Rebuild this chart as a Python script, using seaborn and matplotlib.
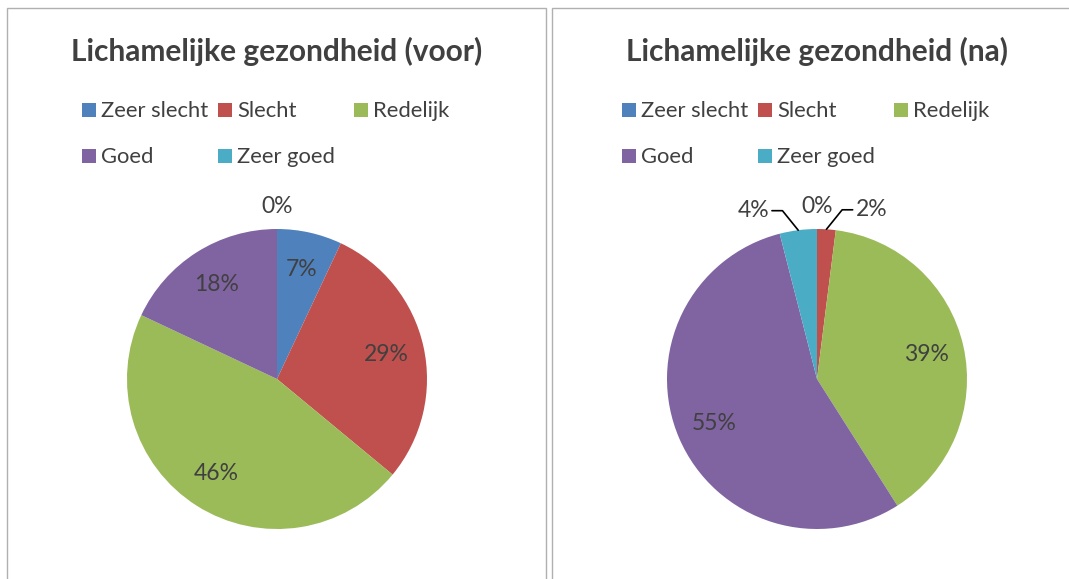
import numpy as np
import matplotlib
matplotlib.use("Agg")
import matplotlib.pyplot as plt
from matplotlib.patches import Rectangle
import seaborn as sns

categories = ["Zeer slecht", "Slecht", "Redelijk", "Goed", "Zeer goed"]
voor = [7, 29, 46, 18, 0]
na = [0, 2, 39, 55, 4]
titles = ["Lichamelijke gezondheid (voor)", "Lichamelijke gezondheid (na)"]
colors = ["#4F81BD", "#C0504D", "#9BBB59", "#8064A2", "#4BACC6"]

sns.set_theme(style="white")
plt.rcParams["font.family"] = ["Lato", "DejaVu Sans"]
palette = sns.color_palette(colors)
TXT = "#404040"

W, H = 1069, 579
fig = plt.figure(figsize=(W / 100, H / 100), dpi=100)

# panel borders (pixels from top-left)
for x0, x1 in [(7, 546), (552, 1080)]:
    fig.add_artist(Rectangle((x0 / W, -0.05), (x1 - x0) / W, 1 - 8 / H + 0.05,
                             transform=fig.transFigure, fill=False,
                             edgecolor="#b0b0b0", lw=1))

R = 150


def draw_panel(cx, cy, title, values):
    ax = fig.add_axes([(cx - R) / W, (H - cy - R) / H, 2 * R / W, 2 * R / H])
    wedges, _ = ax.pie(values, colors=palette, startangle=90, counterclock=False,
                       wedgeprops=dict(linewidth=0))
    ax.set_xlim(-1, 1)
    ax.set_ylim(-1, 1)
    ax.set_aspect("equal")
    ax.set_axis_off()

    for w, v in zip(wedges, values):
        mid = np.deg2rad((w.theta1 + w.theta2) / 2)
        c, s = np.cos(mid), np.sin(mid)
        lab = f"{v}%"
        if v == 0:
            ax.text(1.15 * c, 1.15 * s, lab, ha="center", va="center",
                    fontsize=16.5, color=TXT)
        elif v < 5:
            sign = 1 if c > 0 else -1
            ex, ey = c + sign * 0.105, s + 0.13
            hx = ex + sign * 0.07
            ax.plot([c, ex, hx], [s, ey, ey], color="black", lw=1.2, clip_on=False)
            ax.text(hx + sign * 0.02, ey, lab, ha="left" if sign > 0 else "right",
                    va="center", fontsize=16.5, color=TXT)
        else:
            ax.text(0.75 * c, 0.75 * s, lab, ha="center", va="center",
                    fontsize=16.5, color=TXT)

    fig.text(cx / W, 1 - 51 / H, title, ha="center", va="center",
             fontsize=21.5, fontweight="bold", color=TXT)

    # legend, three per row
    for i, (cat, col) in enumerate(zip(categories, palette)):
        row, k = divmod(i, 3)
        mx = cx - 195 + k * 136
        my = 103 + row * 46
        fig.add_artist(Rectangle((mx / W, 1 - (my + 14) / H), 14 / W, 14 / H,
                                 transform=fig.transFigure, color=col, lw=0))
        fig.text((mx + 19) / W, 1 - (my + 14) / H, cat, ha="left", va="baseline",
                 fontsize=15.8, color=TXT)


draw_panel(277, 379, titles[0], voor)
draw_panel(817, 379, titles[1], na)

fig.savefig("out.png", dpi=100, facecolor="white")
